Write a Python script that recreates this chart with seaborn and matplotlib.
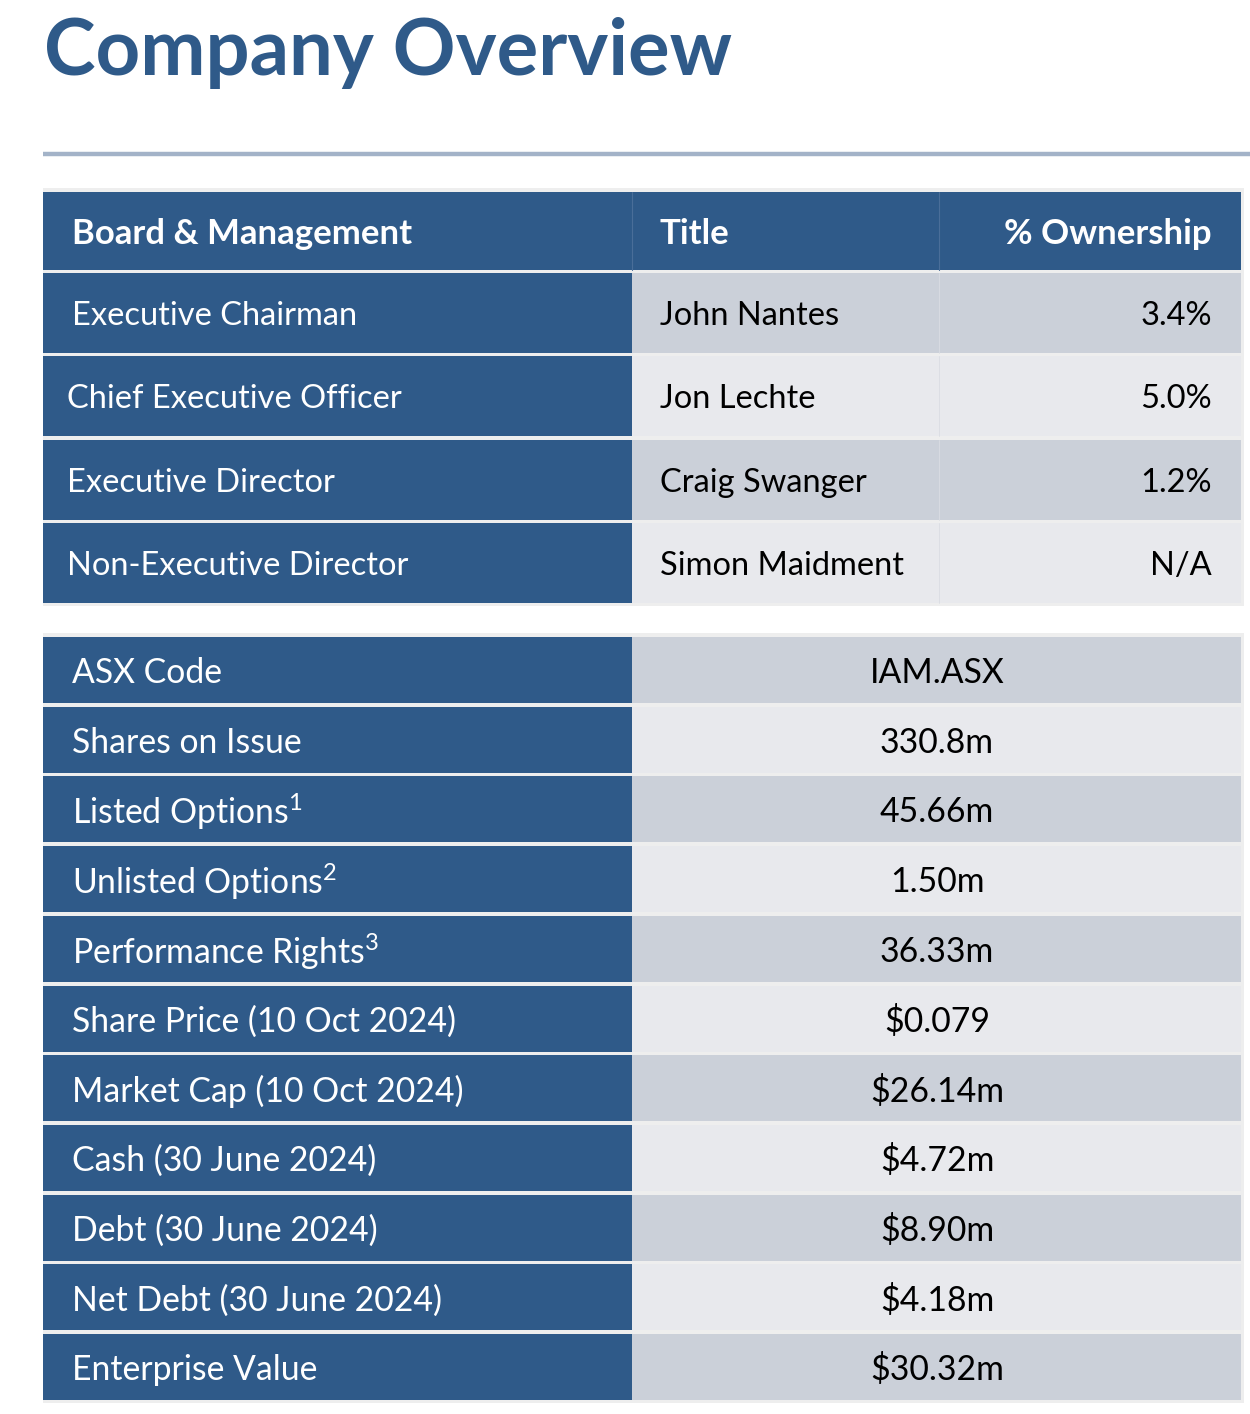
import matplotlib
matplotlib.use("Agg")
import matplotlib.pyplot as plt
import seaborn as sns
from matplotlib.patches import Rectangle

# ===================== data =====================
title = "Company Overview"
header_labels = ["Board & Management", "Title", "% Ownership"]
board_roles = ["Executive Chairman", "Chief Executive Officer",
               "Executive Director", "Non-Executive Director"]
board_names = ["John Nantes", "Jon Lechte", "Craig Swanger", "Simon Maidment"]
board_ownership = ["3.4%", "5.0%", "1.2%", "N/A"]

metric_labels = ["ASX Code", "Shares on Issue", "Listed Options",
                 "Unlisted Options", "Performance Rights",
                 "Share Price (10 Oct 2024)", "Market Cap (10 Oct 2024)",
                 "Cash (30 June 2024)", "Debt (30 June 2024)",
                 "Net Debt (30 June 2024)", "Enterprise Value"]
metric_notes = ["", "", "1", "2", "3", "", "", "", "", "", ""]
metric_values = ["IAM.ASX", "330.8m", "45.66m", "1.50m", "36.33m", "$0.079",
                 "$26.14m", "$4.72m", "$8.90m", "$4.18m", "$30.32m"]

# ===================== style =====================
sns.set_theme(style="white")
plt.rcParams["font.family"] = ["Lato", "DejaVu Sans"]
plt.rcParams["mathtext.fontset"] = "custom"
plt.rcParams["mathtext.rm"] = "Lato"
plt.rcParams["mathtext.it"] = "Lato:italic"
plt.rcParams["mathtext.bf"] = "Lato:bold"

BLUE = "#2F5A89"
GRAY_DARK = "#CBD0D9"
GRAY_LIGHT = "#E8E9ED"
EDGE = "#EEEEEE"
RULE = "#A3B3C8"

fig = plt.figure(figsize=(12.5, 14.14), dpi=100)
ax = fig.add_axes([0, 0, 1, 1])
ax.set_xlim(0, 1250)
ax.set_ylim(1414, 0)
ax.axis("off")

# title + rule
ax.text(44, 75, title, fontsize=56, fontweight="bold", color=BLUE, va="baseline")
ax.plot([43, 1250], [154, 154], color=RULE, lw=3.2, solid_capstyle="butt")

# column edges
x0, x1, x2, x3 = 43, 632, 939, 1241
DY = 3  # nudge text down a little (va=center counts descenders)


def cell(x, y, w, h, color):
    ax.add_patch(Rectangle((x, y), w, h, facecolor=color, edgecolor="none"))


# ---------- table 1: board ----------
cell(x0, 188, x3 - x0 + 3, 606 - 188, EDGE)
cell(x0, 192, x3 - x0, 78, BLUE)
ax.plot([x1, x1], [192, 270], color="#4A6E99", lw=0.8)
ax.plot([x2, x2], [192, 270], color="#4A6E99", lw=0.8)
hy = 192 + 39 + DY
ax.text(72, hy, header_labels[0], fontsize=25, fontweight="bold", color="white", va="center")
ax.text(660, hy, header_labels[1], fontsize=25, fontweight="bold", color="white", va="center")
ax.text(1212, hy, header_labels[2], fontsize=25, fontweight="bold", color="white",
        va="center", ha="right")

for i, (role, name, own) in enumerate(zip(board_roles, board_names, board_ownership)):
    top = 273 + i * 83.4
    h = 80
    bg = GRAY_DARK if i % 2 == 0 else GRAY_LIGHT
    cell(x0, top, x1 - x0, h, BLUE)
    cell(x1, top, x3 - x1, h, bg)
    ax.plot([x2, x2], [top, top + h], color="#DADDE3", lw=0.6)
    yc = top + h / 2 + DY
    ax.text(72 if i == 0 else 67, yc, role, fontsize=23.5, color="white", va="center")
    ax.text(660, yc, name, fontsize=23.5, color="black", va="center")
    ax.text(1212, yc, own, fontsize=23.5, color="black", va="center", ha="right")

# ---------- table 2: capital structure ----------
cell(x0, 633, x3 - x0 + 3, 1403 - 633, EDGE)
for i, (lab, note, val) in enumerate(zip(metric_labels, metric_notes, metric_values)):
    top = 637 + i * 69.7
    h = 66
    bg = GRAY_DARK if i % 2 == 0 else GRAY_LIGHT
    cell(x0, top, x1 - x0, h, BLUE)
    cell(x1, top, x3 - x1, h, bg)
    yc = top + h / 2 + DY
    text = lab + (r"$^{\mathrm{" + note + "}}$" if note else "")
    ax.text(72, yc, text, fontsize=24.3, color="white", va="center")
    ax.text(937, yc, val.replace("$", r"\$"), fontsize=24.3, color="black",
            va="center", ha="center")

fig.savefig("out.png", dpi=100)
